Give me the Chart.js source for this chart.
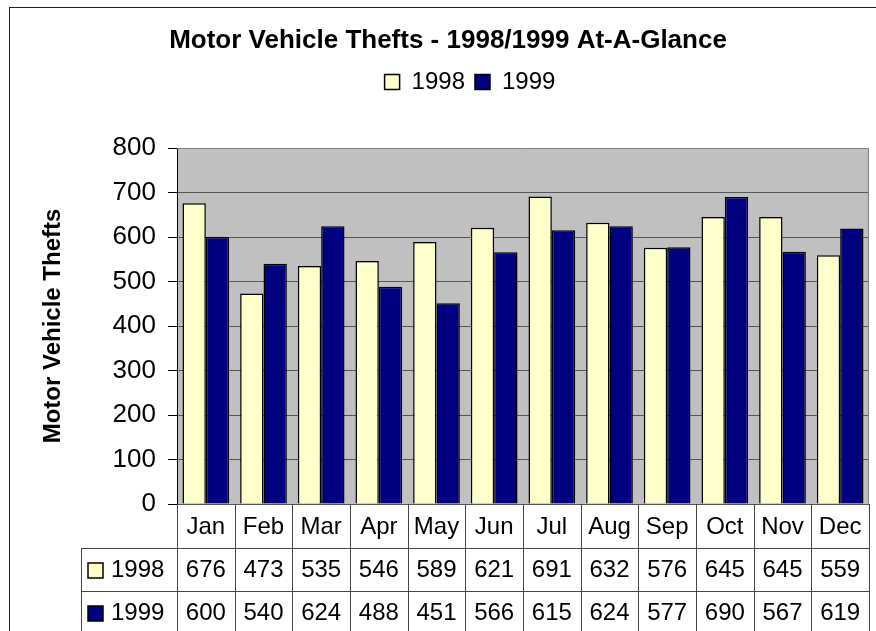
<!DOCTYPE html>
<html>
<head>
<meta charset="utf-8">
<script src="https://cdn.jsdelivr.net/npm/chart.js@4"></script>
<style>
  html, body { margin: 0; padding: 0; background: #fff; overflow: hidden; }
  canvas { display: block; }
</style>
</head>
<body>
<canvas id="c" width="876" height="631"></canvas>
<script>
const months = ['Jan','Feb','Mar','Apr','May','Jun','Jul','Aug','Sep','Oct','Nov','Dec'];
const values1998 = [676, 473, 535, 546, 589, 621, 691, 632, 576, 645, 645, 559];
const values1999 = [600, 540, 624, 488, 451, 566, 615, 624, 577, 690, 567, 619];
const seriesNames = ['1998', '1999'];
const seriesColors = ['#FFFFCC', '#000080'];
const chartTitle = 'Motor Vehicle Thefts - 1998/1999 At-A-Glance';
const yAxisTitle = 'Motor Vehicle Thefts';

const FONT = "'Liberation Sans', Arial, Helvetica, sans-serif";
Chart.defaults.font.family = FONT;
Chart.defaults.color = '#000';

const layoutShift = {
  id: 'layoutShift',
  afterLayout(chart) {
    const lg = chart.legend;
    if (lg) { lg.left += 31; lg.right += 31; lg.top -= 44; lg.bottom -= 44; }
    const t = chart.titleBlock;
    if (t) { t.left += 9; t.right += 9; }
  }
};

const frame = {
  id: 'frame',
  beforeDraw(chart) {
    const {ctx, chartArea: a} = chart;
    ctx.save();
    ctx.fillStyle = '#fff';
    ctx.fillRect(0, 0, chart.width, chart.height);
    ctx.strokeStyle = '#222';
    ctx.lineWidth = 1;
    ctx.strokeRect(9.5, 7.5, chart.width + 20, chart.height + 20);
    ctx.fillStyle = '#C0C0C0';
    ctx.fillRect(a.left, a.top, a.right - a.left, a.bottom - a.top);
    ctx.restore();
  },
  afterDatasetsDraw(chart) {
    const {ctx, chartArea: a} = chart;
    ctx.save();
    ctx.strokeStyle = '#808080';
    ctx.lineWidth = 1;
    ctx.beginPath();
    ctx.moveTo(a.left, a.top + 0.5);
    ctx.lineTo(a.right - 0.5, a.top + 0.5);
    ctx.lineTo(a.right - 0.5, a.bottom);
    ctx.stroke();
    ctx.restore();
  },
  afterDraw(chart) {
    const {ctx, chartArea: a} = chart;
    const xs = chart.scales.x;
    const n = months.length;
    const w = (a.right - a.left) / n;
    const rowTop = a.bottom;
    const r1 = 548, r2 = 591, bottom = chart.height;
    const labelLeft = 81;
    ctx.save();
    ctx.strokeStyle = '#444';
    ctx.lineWidth = 1;
    ctx.beginPath();
    for (let i = 0; i <= n; i++) {
      const x = Math.round(xs.getPixelForValue(0) - w / 2 + i * w) + 0.5;
      ctx.moveTo(x, rowTop);
      ctx.lineTo(x, bottom);
    }
    ctx.moveTo(labelLeft + 0.5, r1);
    ctx.lineTo(labelLeft + 0.5, bottom);
    ctx.moveTo(labelLeft, r1 + 0.5);
    ctx.lineTo(a.right, r1 + 0.5);
    ctx.moveTo(labelLeft, r2 + 0.5);
    ctx.lineTo(a.right, r2 + 0.5);
    ctx.stroke();

    ctx.fillStyle = '#000';
    ctx.font = '24px ' + FONT;
    ctx.textAlign = 'center';
    ctx.textBaseline = 'middle';
    const rows = [values1998, values1999];
    const rowY = [570, 613];
    for (let i = 0; i < n; i++) {
      const cx = xs.getPixelForValue(i);
      ctx.fillText(months[i], cx, 527);
      rows.forEach((vals, r) => ctx.fillText(String(vals[i]), cx, rowY[r]));
    }
    ctx.textAlign = 'left';
    seriesNames.forEach((name, r) => {
      ctx.fillStyle = seriesColors[r];
      ctx.fillRect(88, rowY[r] - 7, 15, 15);
      ctx.strokeStyle = '#000';
      ctx.lineWidth = 1.5;
      ctx.strokeRect(88, rowY[r] - 7, 15, 15);
      ctx.fillStyle = '#000';
      ctx.fillText(name, 111, rowY[r]);
    });
    ctx.restore();
  }
};

new Chart(document.getElementById('c'), {
  type: 'bar',
  data: {
    labels: months,
    datasets: [
      { label: seriesNames[0], data: values1998, backgroundColor: seriesColors[0], borderColor: '#000', borderWidth: 1.5 },
      { label: seriesNames[1], data: values1999, backgroundColor: seriesColors[1], borderColor: '#000', borderWidth: 1.5 }
    ]
  },
  options: {
    responsive: false,
    animation: false,
    layout: { padding: { left: 9, right: 7, top: 0, bottom: 127 } },
    datasets: { bar: { categoryPercentage: 0.81, barPercentage: 1.0 } },
    plugins: {
      title: {
        display: true,
        text: chartTitle,
        color: '#000',
        font: { size: 26, weight: 'bold' },
        padding: { top: 25, bottom: 47.8 }
      },
      legend: {
        display: true,
        labels: { boxWidth: 15, boxHeight: 15, color: '#000', font: { size: 24 }, padding: 10 }
      },
      tooltip: { enabled: false }
    },
    scales: {
      x: { display: false, offset: true },
      y: {
        min: 0, max: 800,
        ticks: { stepSize: 100, color: '#000', font: { size: 26 }, padding: 12 },
        grid: { color: '#555', lineWidth: 1, tickLength: 9, tickColor: '#000' },
        border: { color: '#000', width: 1 },
        title: { display: true, text: yAxisTitle, color: '#000', font: { size: 24, weight: 'bold' }, padding: { top: 30, bottom: 0 } },
        afterFit(scale) { scale.width = 168; }
      }
    }
  },
  plugins: [layoutShift, frame]
});
</script>
</body>
</html>
